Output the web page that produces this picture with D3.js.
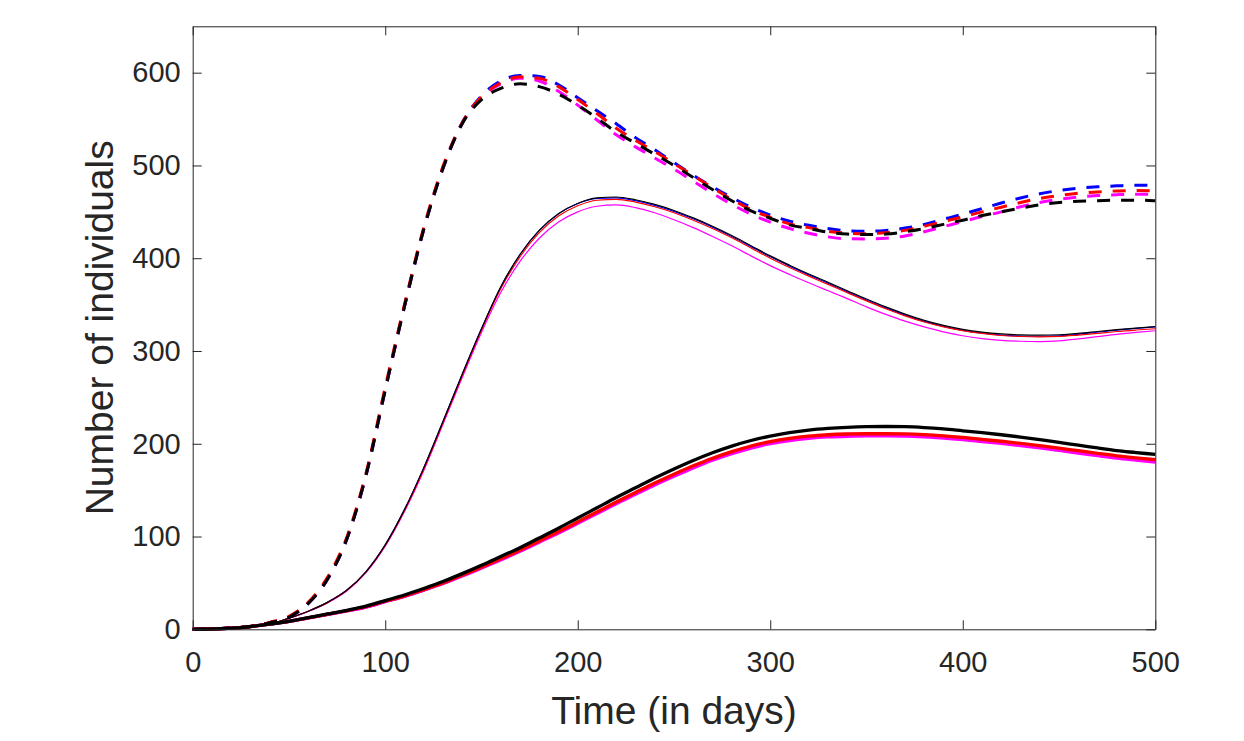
<!DOCTYPE html>
<html>
<head>
<meta charset="utf-8">
<script src="https://cdn.jsdelivr.net/npm/d3@7"></script>
<style>
  body { margin: 0; background: #fff; }
  svg { display: block; font-family: "Liberation Sans", Arial, Helvetica, sans-serif; }
  .axis path, .axis line { stroke: #262626; stroke-width: 1; }
  .axis text { fill: #262626; font-size: 29px; }
  .axis-label { fill: #262626; font-size: 39px; }
</style>
</head>
<body>
<svg width="1244" height="741"></svg>
<script>
// time grid (days)
var days = [0,10,20,30,40,50,60,70,80,90,100,110,120,130,140,150,160,170,180,190,200,
  210,220,230,240,250,260,270,280,290,300,310,320,330,340,350,360,370,380,390,400,
  410,420,430,440,450,460,470,480,490,500];

var xTicks = [0, 100, 200, 300, 400, 500];
var yTicks = [0, 100, 200, 300, 400, 500, 600];

// dashed curves
var dashBlack = [0,0.5,1.5,3,7,13,28,54,97,166,258,348,431,497,545,571,583,588,585,577,565,
  551,536,524,512,500,487,474,462,451,443,436,432,428,426,425.5,426,428.5,432,436.5,441,
  446,450,454,457.5,460,461.5,462,462.5,462.5,462];
var dashRed = [0,0.5,1.6,3.2,7.5,14,29,56,99,168,261,350,433,499,546,574,589,595.5,594,585,571,
  556,540,527,515,502,489,476,463.5,452.5,444,437,433,429,427,426.5,427.5,430,434.5,439.5,444.5,
  450,455,460,464.5,467.5,470,471.5,472.5,473,472.5];
var dashMagenta = [0,0.5,1.5,3,7,13,28,54,97,166,258,348,431,497,545.5,573,588,594,591,580,565,
  549,533,520,508,496,483,470,458,447.5,439,432,427,423,421,420.8,421.5,424,428.5,434,439.5,
  445,450,455.5,460,463.5,466,467.5,468.5,469,468.8];
var dashBlue = [0,0.5,1.5,3,7,13,28,54,97,166,258,348,431,497,546,575,591,597,596,587,573,
  559,545,530,517,503,489.5,477,465.5,455,446.5,440,435.5,432,429.5,429,430,432.5,436.5,442,447.5,
  453.5,459.5,465,469.5,473,475.5,477,478,478.7,478.5];

// thin solid curves
var thinBlack = [0,0.3,1,2.5,5.5,12,19.5,29,42,62,91,129,174,224,275,324,369,404,430,448,459,
  465,466,463,458,451.5,443.5,434.5,424.5,413.5,402.5,392.5,383,374,365,356,347.5,339.7,333,327.6,323.4,
  320.4,318.4,317.3,317,317.5,319,321,323,324.7,326.2];
var thinRed = [0,0.3,1,2.5,5.5,12,19.5,29,42,62,90.5,128,172.5,222.5,273.5,322.5,367,401.5,427.5,445.5,456.5,
  462.5,463.5,460.5,455.5,449,441,432,422,411,400,390,380.7,371.8,362.9,354,345.6,337.9,331.3,326,321.9,
  318.9,316.7,315.6,315.3,315.7,317.2,319,321,322.6,324];
var thinMagenta = [0,0.3,1,2.5,5.5,11.8,19.2,28.5,41.3,61,89.5,127,171,221,271.5,320,363,396.5,421.5,439,450,
  456,457.5,454.5,449,441.5,433,423.5,413.5,402.5,392,382.5,373.5,365,356.5,347.5,339.5,332.2,326,320.6,316.4,
  313.4,311.4,310.5,310.2,311,313,315.5,318,320,321.8];
var thinBlue = [0,0.3,1,2.5,5.5,12,19.5,29,42,62,91,129,174,224,275,324,369,404,430,448,459,
  464.5,465,462,457,450.5,442.5,433.5,423.5,412.5,401.5,391.5,382,373,364,355,346.5,338.7,332,326.6,322.3,
  319.3,317.2,316.1,315.9,316.4,318,320.2,322.4,324.3,326];

// thick solid curves
var thickBlack = [0,0.3,1.2,3,5.5,8.5,12.5,16.5,20.5,25,31,37,44,51.5,60,69,78.5,88,98.5,109,120,
  131,142,152.5,163,172.8,182,190.3,197.5,203.5,208.3,212,214.7,216.5,217.7,218.4,218.6,218.4,217.5,216,214,
  212,209.7,207.2,204.5,201.5,198.5,195.5,192.5,190.5,188.5];
var thickRed = [0,0.3,1.2,3,5.5,8.5,12.3,16.2,20,24.3,30.2,36,42.8,50,58.3,67,76,85.2,95.3,105.3,115.8,
  126.5,137.2,147.5,157.7,167.2,176.2,184.4,191.5,197.6,202.3,205.8,208.2,209.7,210.5,210.8,210.8,210.6,209.8,208.5,206.8,
  204.8,202.7,200.4,197.9,195.3,192.5,189.7,187,184.8,182.8];
var thickMagenta = [0,0.3,1.2,3,5.5,8.5,12.2,16,19.8,24,29.8,35.5,42.2,49.3,57.4,66,74.8,84,93.9,103.8,114.2,
  124.8,135.4,145.5,155.6,165,174,182.2,189.3,195.4,200.1,203.5,205.9,207.4,208.1,208.4,208.4,208.2,207.4,206.1,204.4,
  202.4,200.3,198,195.5,192.8,190,187.2,184.5,182.3,180.2];
var thickBlue = [0,0.3,1.2,3,5.5,8.5,12.3,16.2,20,24.2,30,35.8,42.5,49.7,57.9,66.5,75.4,84.6,94.6,104.5,115,
  125.6,136.3,146.5,156.7,166.2,175.2,183.4,190.5,196.6,201.3,204.8,207.2,208.7,209.5,209.8,209.8,209.6,208.6,207.3,205.6,
  203.6,201.5,199.2,196.7,194,191.2,188.4,185.7,183.5,181.5];

var colors = {blue: '#0000ff', magenta: '#ff00ff', red: '#ff0000', black: '#000000'};

// drawn in this order, black last (on top)
var series = [
  {color: 'blue', dashed: dashBlue, thin: thinBlue, thick: thickBlue},
  {color: 'magenta', dashed: dashMagenta, thin: thinMagenta, thick: thickMagenta},
  {color: 'red', dashed: dashRed, thin: thinRed, thick: thickRed},
  {color: 'black', dashed: dashBlack, thin: thinBlack, thick: thickBlack}
];

var svg = d3.select('svg');
var box = {l: 192.7, t: 26.3, r: 1155.3, b: 629.3};
var width = box.r - box.l;
var height = box.b - box.t;

var xScale = d3.scaleLinear().domain([0, 500]).range([0, width]);
var yScale = d3.scaleLinear().domain([0, 650]).range([height, 0]);

var g = svg.append('g')
  .attr('transform', 'translate(' + [box.l, box.t] + ')');

var line = d3.line()
  .x(function(d, i) { return xScale(days[i]); })
  .y(function(d) { return yScale(d); })
  .curve(d3.curveMonotoneX);

series.forEach(function(s) {
  var c = colors[s.color];
  g.append('path')
    .attr('class', 'dashed ' + s.color)
    .attr('d', line(s.dashed))
    .style('fill', 'none')
    .style('stroke', c)
    .style('stroke-width', 3)
    .style('stroke-dasharray', '13,11');
  g.append('path')
    .attr('class', 'thin ' + s.color)
    .attr('d', line(s.thin))
    .style('fill', 'none')
    .style('stroke', c)
    .style('stroke-width', 1.2);
  g.append('path')
    .attr('class', 'thick ' + s.color)
    .attr('d', line(s.thick))
    .style('fill', 'none')
    .style('stroke', c)
    .style('stroke-width', 3.3);
});

// axes, ticks pointing inward, box on
g.append('g')
  .attr('class', 'axis x')
  .attr('transform', 'translate(0,' + height + ')')
  .call(d3.axisBottom(xScale).tickValues(xTicks).tickSizeInner(-9).tickSizeOuter(0).tickPadding(22));

g.append('g')
  .attr('class', 'axis y')
  .call(d3.axisLeft(yScale).tickValues(yTicks).tickSizeInner(-9).tickSizeOuter(0).tickPadding(12));

g.append('g')
  .attr('class', 'axis x-top')
  .call(d3.axisTop(xScale).tickValues(xTicks).tickSizeInner(-9).tickSizeOuter(0).tickFormat(''));

g.append('g')
  .attr('class', 'axis y-right')
  .attr('transform', 'translate(' + width + ',0)')
  .call(d3.axisRight(yScale).tickValues(yTicks).tickSizeInner(-9).tickSizeOuter(0).tickFormat(''));

g.selectAll('.axis').attr('font-size', null).attr('font-family', null);

svg.append('text')
  .attr('class', 'axis-label')
  .attr('x', box.l + width / 2)
  .attr('y', 724)
  .attr('text-anchor', 'middle')
  .text('Time (in days)');

svg.append('text')
  .attr('class', 'axis-label')
  .attr('transform', 'translate(113,' + (box.t + height / 2) + ') rotate(-90)')
  .attr('text-anchor', 'middle')
  .text('Number of individuals');
</script>
</body>
</html>
